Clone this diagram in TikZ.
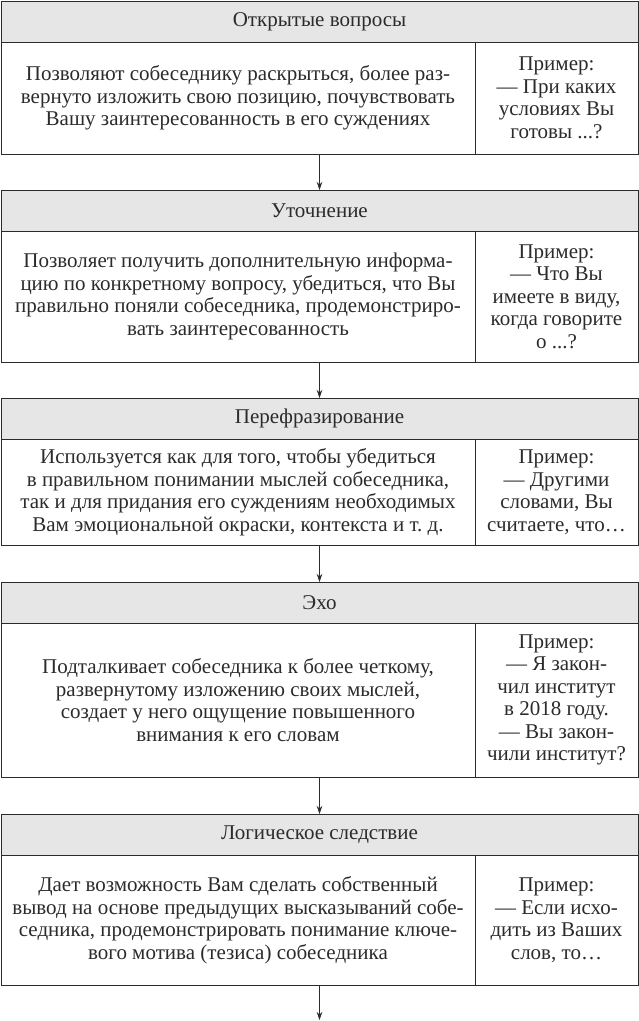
\documentclass[tikz,border=0pt]{standalone}
\usepackage{fontspec}
\setmainfont{Liberation Serif}
\usepackage{tikz}
\usetikzlibrary{positioning,arrows.meta}
\definecolor{headgray}{HTML}{E6E6E6}
\definecolor{ink}{HTML}{2B2B2B}
\tikzset{
  head/.style={draw=ink, line width=0.9pt, fill=headgray, text=ink, minimum width=637pt, minimum height=41pt, inner sep=0pt, outer sep=0pt},
  desc/.style={draw=ink, line width=0.9pt, text=ink, minimum width=474pt, inner sep=0pt, outer sep=0pt, align=center},
  example/.style={draw=ink, line width=0.9pt, text=ink, minimum width=163pt, inner sep=0pt, outer sep=0pt, align=center},
  flow/.style={draw=ink, line width=0.7pt, -{Stealth[length=8pt,width=5.5pt]}}
}
\begin{document}
\begin{tikzpicture}[x=1pt, y=1pt, font=\fontsize{21}{22.5}\selectfont]
\useasboundingbox (0,0) rectangle (639,-1021);
\node[head] at (319.5,-21.5) (h1) {Открытые вопросы};
\node[desc, minimum height=112pt, below right=0pt of h1.south west] (d1) {Позволяют собеседнику раскрыться, более раз-\\вернуто изложить свою позицию, почувствовать\\Вашу заинтересованность в его суждениях};
\node[example, minimum height=112pt, right=0pt of d1] (e1) {Пример:\\— При каких\\условиях Вы\\готовы ...?};

\node[head] at (319.5,-210.5) (h2) {Уточнение};
\node[desc, minimum height=131pt, below right=0pt of h2.south west] (d2) {Позволяет получить дополнительную информа-\\цию по конкретному вопросу, убедиться, что Вы\\правильно поняли собеседника, продемонстриро-\\вать заинтересованность};
\node[example, minimum height=131pt, right=0pt of d2] (e2) {Пример:\\— Что Вы\\имеете в виду,\\когда говорите\\о ...?};

\node[head] at (319.5,-418.5) (h3) {Перефразирование};
\node[desc, minimum height=106pt, below right=0pt of h3.south west] (d3) {Используется как для того, чтобы убедиться\\в правильном понимании мыслей собеседника,\\так и для придания его суждениям необходимых\\Вам эмоциональной окраски, контекста и~т.~д.};
\node[example, minimum height=106pt, right=0pt of d3] (e3) {Пример:\\— Другими\\словами, Вы\\считаете, что…};

\node[head] at (319.5,-602.5) (h4) {Эхо};
\node[desc, minimum height=154pt, below right=0pt of h4.south west] (d4) {Подталкивает собеседника к более четкому,\\развернутому изложению своих мыслей,\\создает у него ощущение повышенного\\внимания к его словам};
\node[example, minimum height=154pt, right=0pt of d4] (e4) {Пример:\\— Я закон-\\чил институт\\в 2018 году.\\— Вы закон-\\чили институт?};

\node[head] at (319.5,-834.5) (h5) {Логическое следствие};
\node[desc, minimum height=130pt, below right=0pt of h5.south west] (d5) {Дает возможность Вам сделать собственный\\вывод на основе предыдущих высказываний собе-\\седника, продемонстрировать понимание ключе-\\вого мотива (тезиса) собеседника};
\node[example, minimum height=130pt, right=0pt of d5] (e5) {Пример:\\— Если исхо-\\дить из Ваших\\слов, то…};

\coordinate (end) at (319.5,-1020);
\draw[flow] (d1.south -| h1) -- (h2.north);
\draw[flow] (d2.south -| h2) -- (h3.north);
\draw[flow] (d3.south -| h3) -- (h4.north);
\draw[flow] (d4.south -| h4) -- (h5.north);
\draw[flow] (d5.south -| h5) -- (end);
\end{tikzpicture}
\end{document}
